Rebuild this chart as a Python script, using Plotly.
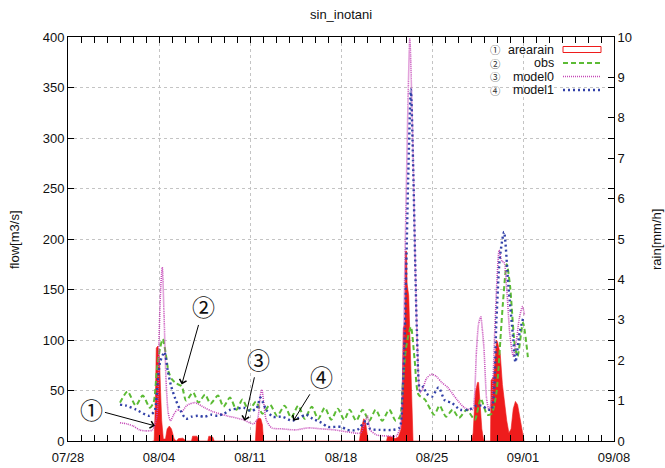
import plotly.graph_objects as go

chart_title = "sin_inotani"
series_names = ["arearain", "obs", "model0", "model1"]
series_marks = ["①", "②", "③", "④"]
flow_label = "flow[m3/s]"
rain_label = "rain[mm/h]"

x_tick_dates = ["2013-07-28", "2013-08-04", "2013-08-11", "2013-08-18",
                "2013-08-25", "2013-09-01", "2013-09-08"]
x_tick_labels = ["07/28", "08/04", "08/11", "08/18", "08/25", "09/01", "09/08"]

rain_time = [
    "2013-08-03 12:00", "2013-08-03 15:00", "2013-08-03 17:00", "2013-08-03 19:00",
    "2013-08-03 22:00", "2013-08-04 01:00", "2013-08-04 03:00", "2013-08-04 05:00",
    "2013-08-04 08:00", "2013-08-04 12:00", "2013-08-04 15:00", "2013-08-04 19:00",
    "2013-08-04 23:00", "2013-08-05 04:00", "2013-08-05 08:00", "2013-08-05 12:00",
    "2013-08-05 20:00", "2013-08-06 02:00", "2013-08-06 12:00", "2013-08-06 14:00",
    "2013-08-06 22:00", "2013-08-07 02:00", "2013-08-07 18:00", "2013-08-07 20:00",
    "2013-08-08 03:00", "2013-08-08 06:00", "2013-08-11 10:00", "2013-08-11 12:00",
    "2013-08-11 16:00", "2013-08-11 20:00", "2013-08-11 23:00", "2013-08-12 01:00",
    "2013-08-19 10:00", "2013-08-19 13:00", "2013-08-19 18:00", "2013-08-19 21:00",
    "2013-08-20 00:00", "2013-08-20 02:00", "2013-08-21 12:00", "2013-08-21 14:00",
    "2013-08-21 22:00", "2013-08-22 04:00", "2013-08-22 10:00", "2013-08-22 15:00",
    "2013-08-22 17:00", "2013-08-22 19:00", "2013-08-22 22:00", "2013-08-22 23:00",
    "2013-08-23 01:00", "2013-08-23 02:00", "2013-08-23 05:00", "2013-08-23 07:00",
    "2013-08-23 09:00", "2013-08-23 11:00", "2013-08-23 13:00", "2013-08-28 01:00",
    "2013-08-28 04:00", "2013-08-28 08:00", "2013-08-28 12:00", "2013-08-28 14:00",
    "2013-08-28 17:00", "2013-08-28 20:00", "2013-08-28 23:00", "2013-08-29 01:00",
    "2013-08-29 12:00", "2013-08-29 13:00", "2013-08-29 18:00", "2013-08-29 23:00",
    "2013-08-30 01:00", "2013-08-30 03:00", "2013-08-30 06:00", "2013-08-30 10:00",
    "2013-08-30 14:00", "2013-08-30 18:00", "2013-08-30 22:00", "2013-08-31 02:00",
    "2013-08-31 06:00", "2013-08-31 10:00", "2013-08-31 14:00", "2013-08-31 18:00",
    "2013-08-31 22:00", "2013-09-01 02:00",
]
rain_mmh = [
    0, 0, 0.8, 2.3,
    2.35, 2.0, 1.2, 0.5,
    0.05, 0.05, 0.3, 0.37,
    0.3, 0.05, 0, 0.06,
    0.07, 0, 0, 0.12,
    0.12, 0, 0, 0.12,
    0.1, 0, 0, 0.5,
    0.57, 0.55, 0.4, 0,
    0, 0.3, 0.55, 0.5,
    0.2, 0, 0, 0.12,
    0.1, 0.06, 0.1, 0.3,
    1.2, 2.8, 2.9, 4.7,
    4.7, 3.9, 3.6, 2.7,
    1.5, 0.4, 0, 0,
    0.2, 1.2, 1.45, 1.45,
    0.9, 0.3, 0.05, 0,
    0, 1.5, 1.6, 2.5,
    2.45, 2.3, 2.15, 1.4,
    0.86, 0.5, 0.2, 0.3,
    0.8, 0.98, 0.9, 0.6,
    0.2, 0,
]

obs_time = [
    "2013-08-01 00:00", "2013-08-01 14:00", "2013-08-02 05:00", "2013-08-02 18:00",
    "2013-08-03 07:00", "2013-08-03 14:00", "2013-08-03 20:00", "2013-08-04 02:00",
    "2013-08-04 07:00", "2013-08-04 12:00", "2013-08-04 18:00", "2013-08-05 00:00",
    "2013-08-05 08:00", "2013-08-05 18:00", "2013-08-06 02:00", "2013-08-06 15:00",
    "2013-08-07 01:00", "2013-08-07 13:00", "2013-08-07 23:00", "2013-08-08 13:00",
    "2013-08-08 23:00", "2013-08-09 11:00", "2013-08-09 23:00", "2013-08-10 10:00",
    "2013-08-10 22:00", "2013-08-11 11:00", "2013-08-11 23:00", "2013-08-12 13:00",
    "2013-08-13 02:00", "2013-08-13 16:00", "2013-08-14 04:00", "2013-08-14 17:00",
    "2013-08-15 05:00", "2013-08-15 18:00", "2013-08-16 06:00", "2013-08-16 18:00",
    "2013-08-17 06:00", "2013-08-17 18:00", "2013-08-18 06:00", "2013-08-18 16:00",
    "2013-08-19 04:00", "2013-08-19 16:00", "2013-08-20 04:00", "2013-08-20 16:00",
    "2013-08-21 04:00", "2013-08-21 17:00", "2013-08-22 05:00", "2013-08-22 13:00",
    "2013-08-22 18:00", "2013-08-23 00:00", "2013-08-23 09:00", "2013-08-23 16:00",
    "2013-08-23 23:00", "2013-08-24 11:00", "2013-08-25 04:00", "2013-08-25 14:00",
    "2013-08-26 02:00", "2013-08-26 14:00", "2013-08-27 02:00", "2013-08-27 16:00",
    "2013-08-28 07:00", "2013-08-28 18:00", "2013-08-29 06:00", "2013-08-29 14:00",
    "2013-08-29 23:00", "2013-08-30 02:00", "2013-08-30 11:00", "2013-08-30 18:00",
    "2013-08-31 00:00", "2013-08-31 09:00", "2013-08-31 14:00", "2013-09-01 00:00",
    "2013-09-01 09:00",
]
obs_flow = [
    38, 49, 35, 45,
    33, 38, 70, 92,
    101, 88, 68, 61,
    57, 54, 40, 48,
    38, 46, 37, 45,
    34, 43, 31, 41,
    30, 39, 27, 36,
    25, 35, 23, 35,
    22, 34, 22, 33,
    21, 32, 21, 31,
    20, 31, 20, 31,
    20, 31, 20, 24,
    55, 92, 113, 80,
    46, 41, 26, 35,
    24, 31, 23, 31,
    21, 42, 26, 27,
    48, 66, 137, 175,
    154, 94, 84, 117,
    83,
]

model0_time = [
    "2013-08-01 00:00", "2013-08-01 12:00", "2013-08-02 00:00", "2013-08-02 12:00",
    "2013-08-03 00:00", "2013-08-03 12:00", "2013-08-03 20:00", "2013-08-04 00:00",
    "2013-08-04 03:00", "2013-08-04 06:00", "2013-08-04 09:00", "2013-08-04 13:00",
    "2013-08-04 17:00", "2013-08-04 21:00", "2013-08-05 04:00", "2013-08-05 10:00",
    "2013-08-05 18:00", "2013-08-06 03:00", "2013-08-06 18:00", "2013-08-07 12:00",
    "2013-08-08 04:00", "2013-08-09 05:00", "2013-08-10 12:00", "2013-08-11 06:00",
    "2013-08-11 14:00", "2013-08-11 19:00", "2013-08-11 22:00", "2013-08-12 02:00",
    "2013-08-12 06:00", "2013-08-12 16:00", "2013-08-13 12:00", "2013-08-14 12:00",
    "2013-08-15 12:00", "2013-08-16 12:00", "2013-08-17 12:00", "2013-08-18 12:00",
    "2013-08-19 12:00", "2013-08-19 20:00", "2013-08-20 01:00", "2013-08-20 06:00",
    "2013-08-20 18:00", "2013-08-21 12:00", "2013-08-22 06:00", "2013-08-22 14:00",
    "2013-08-22 18:00", "2013-08-22 22:00", "2013-08-23 04:00", "2013-08-23 07:00",
    "2013-08-23 12:00", "2013-08-23 17:00", "2013-08-23 21:00", "2013-08-24 02:00",
    "2013-08-24 07:00", "2013-08-24 14:00", "2013-08-24 23:00", "2013-08-25 08:00",
    "2013-08-25 18:00", "2013-08-26 05:00", "2013-08-26 22:00", "2013-08-27 12:00",
    "2013-08-28 03:00", "2013-08-28 06:00", "2013-08-28 10:00", "2013-08-28 14:00",
    "2013-08-28 18:00", "2013-08-28 21:00", "2013-08-29 00:00", "2013-08-29 05:00",
    "2013-08-29 09:00", "2013-08-29 14:00", "2013-08-29 20:00", "2013-08-30 00:00",
    "2013-08-30 04:00", "2013-08-30 09:00", "2013-08-30 13:00", "2013-08-30 18:00",
    "2013-08-31 00:00", "2013-08-31 06:00", "2013-08-31 12:00", "2013-08-31 17:00",
    "2013-08-31 23:00", "2013-09-01 03:00",
]
model0_flow = [
    18, 17, 15, 11,
    10, 11, 25, 100,
    150, 172, 130, 60,
    28, 20, 27, 31,
    29, 35, 38, 33,
    29, 25, 21, 17,
    22, 45, 51, 35,
    21, 13, 12, 11,
    13, 12, 11, 9,
    8, 18, 25, 11,
    6, 5, 5, 15,
    60, 177, 343, 398,
    310, 177, 94, 48,
    52, 62, 66, 64,
    58, 53, 41, 33,
    31, 40, 88, 116,
    123, 110, 91, 41,
    31, 40, 110, 160,
    189, 178, 177, 150,
    104, 84, 100, 121,
    133, 124,
]

model1_time = [
    "2013-08-01 00:00", "2013-08-01 12:00", "2013-08-02 06:00", "2013-08-03 06:00",
    "2013-08-03 16:00", "2013-08-03 21:00", "2013-08-04 02:00", "2013-08-04 10:00",
    "2013-08-04 16:00", "2013-08-04 22:00", "2013-08-05 06:00", "2013-08-05 14:00",
    "2013-08-06 02:00", "2013-08-06 12:00", "2013-08-07 00:00", "2013-08-07 12:00",
    "2013-08-08 00:00", "2013-08-08 12:00", "2013-08-09 00:00", "2013-08-09 12:00",
    "2013-08-10 00:00", "2013-08-10 12:00", "2013-08-11 00:00", "2013-08-11 12:00",
    "2013-08-11 19:00", "2013-08-12 00:00", "2013-08-12 06:00", "2013-08-12 18:00",
    "2013-08-13 12:00", "2013-08-14 06:00", "2013-08-14 18:00", "2013-08-15 08:00",
    "2013-08-15 20:00", "2013-08-16 12:00", "2013-08-17 00:00", "2013-08-18 00:00",
    "2013-08-18 12:00", "2013-08-19 06:00", "2013-08-19 22:00", "2013-08-20 06:00",
    "2013-08-21 00:00", "2013-08-22 00:00", "2013-08-22 12:00", "2013-08-22 18:00",
    "2013-08-22 22:00", "2013-08-23 04:00", "2013-08-23 09:00", "2013-08-23 13:00",
    "2013-08-23 17:00", "2013-08-23 20:00", "2013-08-24 02:00", "2013-08-24 08:00",
    "2013-08-24 14:00", "2013-08-25 00:00", "2013-08-25 12:00", "2013-08-26 00:00",
    "2013-08-26 12:00", "2013-08-27 04:00", "2013-08-27 20:00", "2013-08-28 10:00",
    "2013-08-28 20:00", "2013-08-29 08:00", "2013-08-29 14:00", "2013-08-29 23:00",
    "2013-08-30 05:00", "2013-08-30 13:00", "2013-08-30 21:00", "2013-08-31 06:00",
    "2013-08-31 10:00", "2013-08-31 18:00", "2013-09-01 00:00",
]
model1_flow = [
    36, 35, 31, 25,
    30, 55, 78, 88,
    70, 55, 42, 32,
    22, 24, 25, 24,
    26, 25, 27, 31,
    32, 33, 30, 32,
    43, 38, 31, 24,
    24, 20, 23, 26,
    22, 18, 14, 14,
    11, 11, 20, 12,
    11, 11, 13, 50,
    111, 260, 348, 277,
    177, 111, 50, 54,
    47, 44, 53, 40,
    38, 31, 31, 35,
    35, 31, 31, 121,
    180, 207, 154, 101,
    78, 108, 121,
]

# arrow tips for the circled callouts (time, flow) and text offsets in px
callout_time = ["2013-08-03 16:30", "2013-08-05 18:00", "2013-08-10 14:00", "2013-08-14 08:00"]
callout_flow = [15, 56, 20, 20]
callout_dx = [-63, 22, 14, 28]
callout_dy = [-17, -78, -62, -45]

FONT = "Liberation Sans, Arial, sans-serif"
CJK = "Noto Sans CJK JP"
RED = "#ee1c1c"
GREEN = "#5cbb35"
MAGENTA = "#c548b8"
BLUE = "#3241a8"
GRID = "#c4c4c4"

fig = go.Figure()
fig.add_trace(go.Scatter(x=rain_time, y=rain_mmh, yaxis="y", mode="lines",
                         fill="tozeroy", fillcolor=RED,
                         line=dict(color=RED, width=0.6), name=series_names[0],
                         showlegend=False))
fig.add_trace(go.Scatter(x=obs_time, y=obs_flow, yaxis="y2", mode="lines",
                         line=dict(color=GREEN, width=2, dash="5px,3px",
                                   shape="spline", smoothing=0.7),
                         name=series_names[1], showlegend=False))
fig.add_trace(go.Scatter(x=model0_time, y=model0_flow, yaxis="y2", mode="lines",
                         line=dict(color=MAGENTA, width=1.6, dash="1px,1px",
                                   shape="spline", smoothing=0.7),
                         name=series_names[2], showlegend=False))
fig.add_trace(go.Scatter(x=model1_time, y=model1_flow, yaxis="y2", mode="lines",
                         line=dict(color=BLUE, width=2.4, dash="2px,3px",
                                   shape="spline", smoothing=0.7),
                         name=series_names[3], showlegend=False))

W, H = 665, 468
L, R, T, B = 68, 51, 37, 27
pw, ph = W - L - R, H - T - B


def px_x(px):
    return (px - L) / pw


def px_y(py):
    return (H - B - py) / ph


txt_font = dict(family=FONT, size=13, color="#111")
annotations = []
annotations.append(dict(text=chart_title, xref="paper", yref="paper",
                        x=0.5, y=px_y(15), xanchor="center", yanchor="middle",
                        showarrow=False, font=txt_font))
annotations.append(dict(text=flow_label, xref="paper", yref="paper",
                        x=px_x(14), y=px_y(240), xanchor="center", yanchor="middle",
                        textangle=-90, showarrow=False, font=txt_font))
annotations.append(dict(text=rain_label, xref="paper", yref="paper",
                        x=px_x(656), y=px_y(240), xanchor="center", yanchor="middle",
                        textangle=-90, showarrow=False, font=txt_font))

# legend (gnuplot style: label right aligned, sample on right)
row_gap = 13.5
row_px = [49.5 + i * row_gap for i in range(len(series_names))]
shapes = []
for i, name in enumerate(series_names):
    yp = px_y(row_px[i])
    annotations.append(dict(text=name, xref="paper", yref="paper", x=px_x(555), y=yp,
                            xanchor="right", yanchor="middle", showarrow=False,
                            borderpad=0, font=dict(family=FONT, size=12.5, color="#111")))
mark_size = row_gap / 1.3
annotations.append(dict(text="<br>".join(series_marks), xref="paper", yref="paper",
                        x=px_x(495), y=px_y((row_px[0] + row_px[-1]) / 2),
                        xanchor="center", yanchor="middle", align="center",
                        showarrow=False, borderpad=0,
                        font=dict(family=CJK, size=mark_size, color="#333")))
shapes.append(dict(type="rect", xref="paper", yref="paper",
                   x0=px_x(563), x1=px_x(601), y0=px_y(row_px[0] + 3), y1=px_y(row_px[0] - 3),
                   line=dict(color=RED, width=1), fillcolor="rgba(0,0,0,0)"))
for i, (col, dash, wd) in enumerate([(GREEN, "5px,3px", 2), (MAGENTA, "1px,1px", 1.6),
                                     (BLUE, "2px,3px", 2.4)]):
    yp = px_y(row_px[i + 1])
    shapes.append(dict(type="line", xref="paper", yref="paper",
                       x0=px_x(563), x1=px_x(601), y0=yp, y1=yp,
                       line=dict(color=col, width=wd, dash=dash)))

for i in range(4):
    annotations.append(dict(text=series_marks[i], x=callout_time[i], y=callout_flow[i],
                            xref="x", yref="y2", ax=callout_dx[i], ay=callout_dy[i],
                            axref="pixel", ayref="pixel", showarrow=True,
                            arrowhead=4, arrowsize=1.4, arrowwidth=1, arrowcolor="#000",
                            standoff=0, startstandoff=0,
                            font=dict(family=CJK, size=23, color="#111")))

axis_font = dict(family=FONT, size=13, color="#111")
fig.update_layout(
    width=W, height=H,
    margin=dict(l=L, r=R, t=T, b=B, pad=0, autoexpand=False),
    paper_bgcolor="white", plot_bgcolor="white",
    showlegend=False,
    xaxis=dict(type="date", range=[x_tick_dates[0], x_tick_dates[-1]],
               tickvals=x_tick_dates, ticktext=x_tick_labels,
               ticks="inside", ticklen=6, tickcolor="#000", tickwidth=1,
               ticklabelstandoff=4, automargin=False,
               showline=True, linecolor="#000", linewidth=1, mirror="allticks",
               showgrid=True, gridcolor=GRID, griddash="dot", gridwidth=1,
               zeroline=False, tickfont=axis_font,
               minor=dict(ticks="inside", ticklen=3, tickcolor="#000",
                          dtick=86400000, tick0=x_tick_dates[0], showgrid=False)),
    yaxis=dict(side="right", range=[0, 10], dtick=1, ticks="inside", ticklen=6,
               tickcolor="#000", showline=True, linecolor="#000", linewidth=1,
               automargin=False,
               showgrid=False, zeroline=False, tickfont=axis_font),
    yaxis2=dict(overlaying="y", side="left", range=[0, 400], dtick=50,
                ticks="inside", ticklen=6, tickcolor="#000", automargin=False,
                showline=True, linecolor="#000", linewidth=1, mirror="allticks",
                showgrid=True, gridcolor=GRID, griddash="dot", gridwidth=1,
                zeroline=False, tickfont=axis_font),
    annotations=annotations,
    shapes=shapes,
)

fig.write_html("out.html", config={"displayModeBar": False},
               post_script="document.body.style.margin='0';document.body.style.padding='0';")
